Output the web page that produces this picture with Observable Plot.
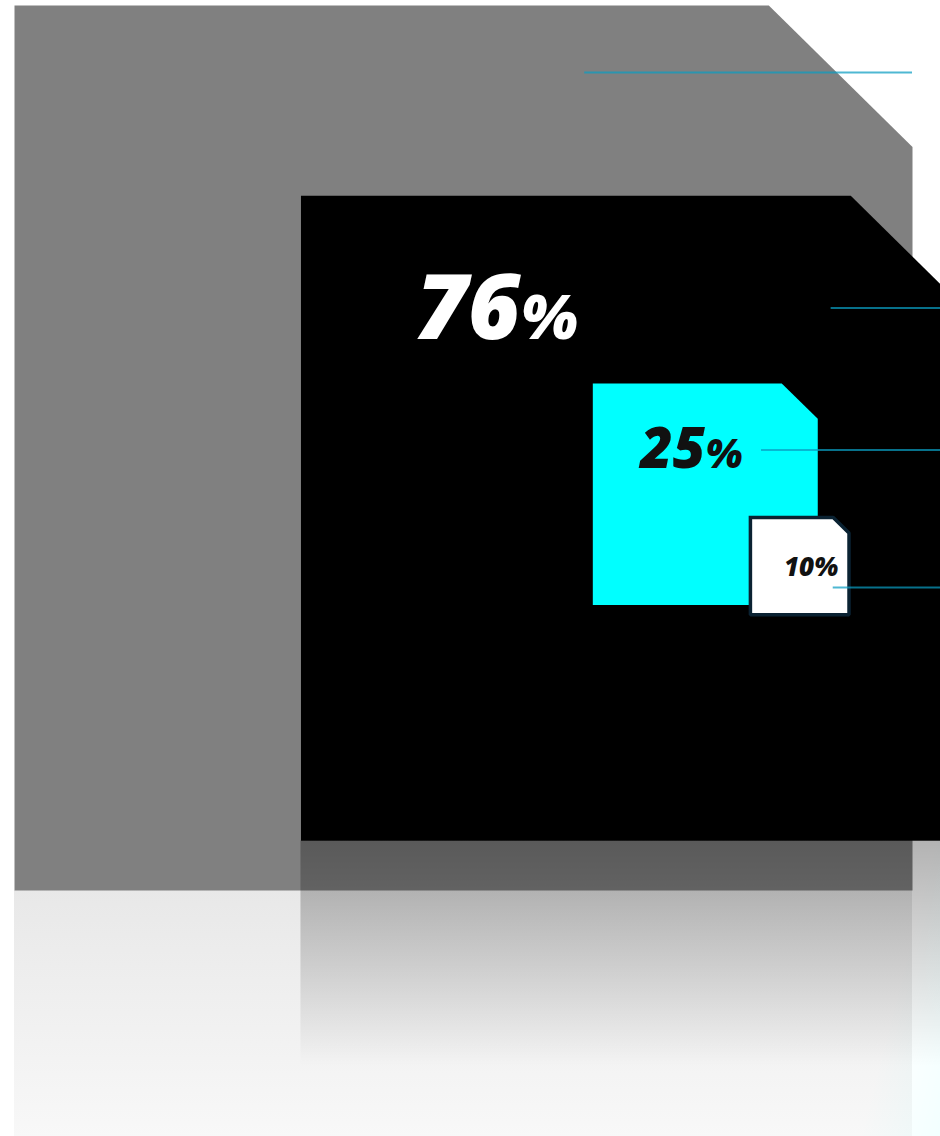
<!DOCTYPE html>
<html><head><meta charset="utf-8">
<script src="https://cdn.jsdelivr.net/npm/d3@7"></script>
<script src="https://cdn.jsdelivr.net/npm/@observablehq/plot@0.6"></script>
<style>html,body{margin:0;padding:0;background:#fff;overflow:hidden}</style>
</head><body><div id="chart"></div>
<script>
// ---- data ----
const levels = ["total", "outer", "middle", "inner"];
const values = [100, 76, 25, 10];
const labels = ["", "76", "25", "10"];

// ---- styles / layout (not data) ----
const fills = ["#808080", "#000000", "#00ffff", "#ffffff"];
const textColors = ["#fff", "#fff", "#111", "#111"];
const sideScale = d3.scaleLinear().domain([0, 100]).range([1.6, 95.4]);
const layout = [
  {x0: 0,    y0: 0,    tx: null, ty: null, lineY: 0.0757, lineX1: 0.635, lineX2: 1.0,  big: 0,  pct: 0},
  {x0: 31.9, y0: 21.5, tx: 0.335, ty: 0.222, lineY: 0.174, lineX1: 0.81, lineX2: 1.2, big: 90, pct: 62},
  {x0: 64.4, y0: 42.7, tx: 0.50, ty: 0.383, lineY: 0.30, lineX1: 0.75, lineX2: 2.0, big: 56, pct: 40},
  {x0: 81.95, y0: 57.85, tx: 0.34, ty: 0.60, lineY: 0.72, lineX1: 0.84, lineX2: 3.0, big: 26, pct: 26}
];
const cutFrac = 0.16;

const squares = levels.map((k, i) => {
  const s = i === 0 ? values[0] : sideScale(values[i]);
  return {key: k, value: values[i], label: labels[i], s, ...layout[i]};
});

function poly(sq) {
  const {x0, y0, s} = sq, c = cutFrac * s;
  return [
    {x: x0, y: y0}, {x: x0 + s - c, y: y0}, {x: x0 + s, y: y0 + c},
    {x: x0 + s, y: y0 + s}, {x: x0, y: y0 + s}, {x: x0, y: y0}
  ];
}
function squareMark(i) {
  return Plot.line(poly(squares[i]), {
    x: "x", y: "y", fill: fills[i],
    stroke: i === 3 ? "#0a2232" : "none",
    strokeWidth: i === 3 ? 3.5 : 0,
    strokeLinecap: "square", strokeLinejoin: "miter"
  });
}

const marks = [];
const g = squares[0], b = squares[1];
// gray square and its reflection
marks.push(squareMark(0));
marks.push(Plot.rect([g], {x1: d => d.x0, x2: d => d.x0 + d.s, y1: d => d.y0 + d.s, y2: d => d.y0 + d.s * 1.28, fill: "url(#reflGray)"}));
// black reflection (over gray and below)
marks.push(Plot.rect([b], {x1: d => d.x0, x2: d => d.x0 + d.s * 1.1, y1: d => d.y0 + d.s, y2: d => d.y0 + d.s * 1.35, fill: "url(#reflBlack)"}));
marks.push(Plot.rect([b], {x1: d => d.x0 + d.s * 0.75, x2: d => d.x0 + d.s * 1.1, y1: d => d.y0 + d.s, y2: d => d.y0 + d.s * 1.5, fill: "url(#cyanGlow)"}));
// inner squares
marks.push(squareMark(1), squareMark(2), squareMark(3));

// leader lines
marks.push(Plot.ruleY(squares, {
  y: d => d.y0 + d.lineY * d.s,
  x1: d => d.x0 + d.lineX1 * d.s,
  x2: d => Math.min(d.x0 + d.lineX2 * d.s, 105),
  stroke: "#0a9cc0", strokeOpacity: 0.72, strokeWidth: 2
}));

// labels
squares.slice(1).forEach((sq, j) => {
  const i = j + 1;
  const common = {fontFamily: "Open Sans", fontWeight: 800, fontStyle: "italic", lineAnchor: "bottom", fill: textColors[i]};
  if (i < 3) {
    marks.push(Plot.text([sq], {...common, x: d => d.x0 + d.tx * d.s, y: d => d.y0 + d.ty * d.s, text: d => d.label, textAnchor: "end", fontSize: sq.big}));
    marks.push(Plot.text([sq], {...common, x: d => d.x0 + d.tx * d.s, y: d => d.y0 + d.ty * d.s, text: () => "%", textAnchor: "start", fontSize: sq.pct}));
  } else {
    marks.push(Plot.text([sq], {...common, x: d => d.x0 + d.tx * d.s, y: d => d.y0 + d.ty * d.s, text: d => d.label + "%", textAnchor: "start", fontSize: sq.big}));
  }
});

const chart = Plot.plot({
  width: 940, height: 1136, margin: 0,
  style: {background: "white", overflow: "hidden"},
  x: {type: "linear", domain: [0, 100], range: [14, 912], axis: null},
  y: {type: "linear", domain: [0, 100], range: [5, 890], axis: null},
  marks
});

const svg = d3.select(chart);
const defs = svg.insert("defs", ":first-child");
function vgrad(id, stops, dir) {
  const lg = defs.append("linearGradient").attr("id", id)
    .attr("x1", dir ? dir[0] : 0).attr("y1", dir ? dir[1] : 0)
    .attr("x2", dir ? dir[2] : 0).attr("y2", dir ? dir[3] : 1);
  stops.forEach(([o, c, a]) => lg.append("stop").attr("offset", o).attr("stop-color", c).attr("stop-opacity", a));
}
vgrad("reflGray", [[0, "#808080", 0.18], [1, "#808080", 0.055]]);
vgrad("reflBlack", [[0, "#000", 0.3], [1, "#000", 0]]);
vgrad("cyanGlow", [[0, "#00ffff", 0], [0.55, "#00ffff", 0], [1, "#00ffff", 0.07]], [0, 0, 1, 0.35]);

document.getElementById("chart").appendChild(chart);
</script>
</body></html>
